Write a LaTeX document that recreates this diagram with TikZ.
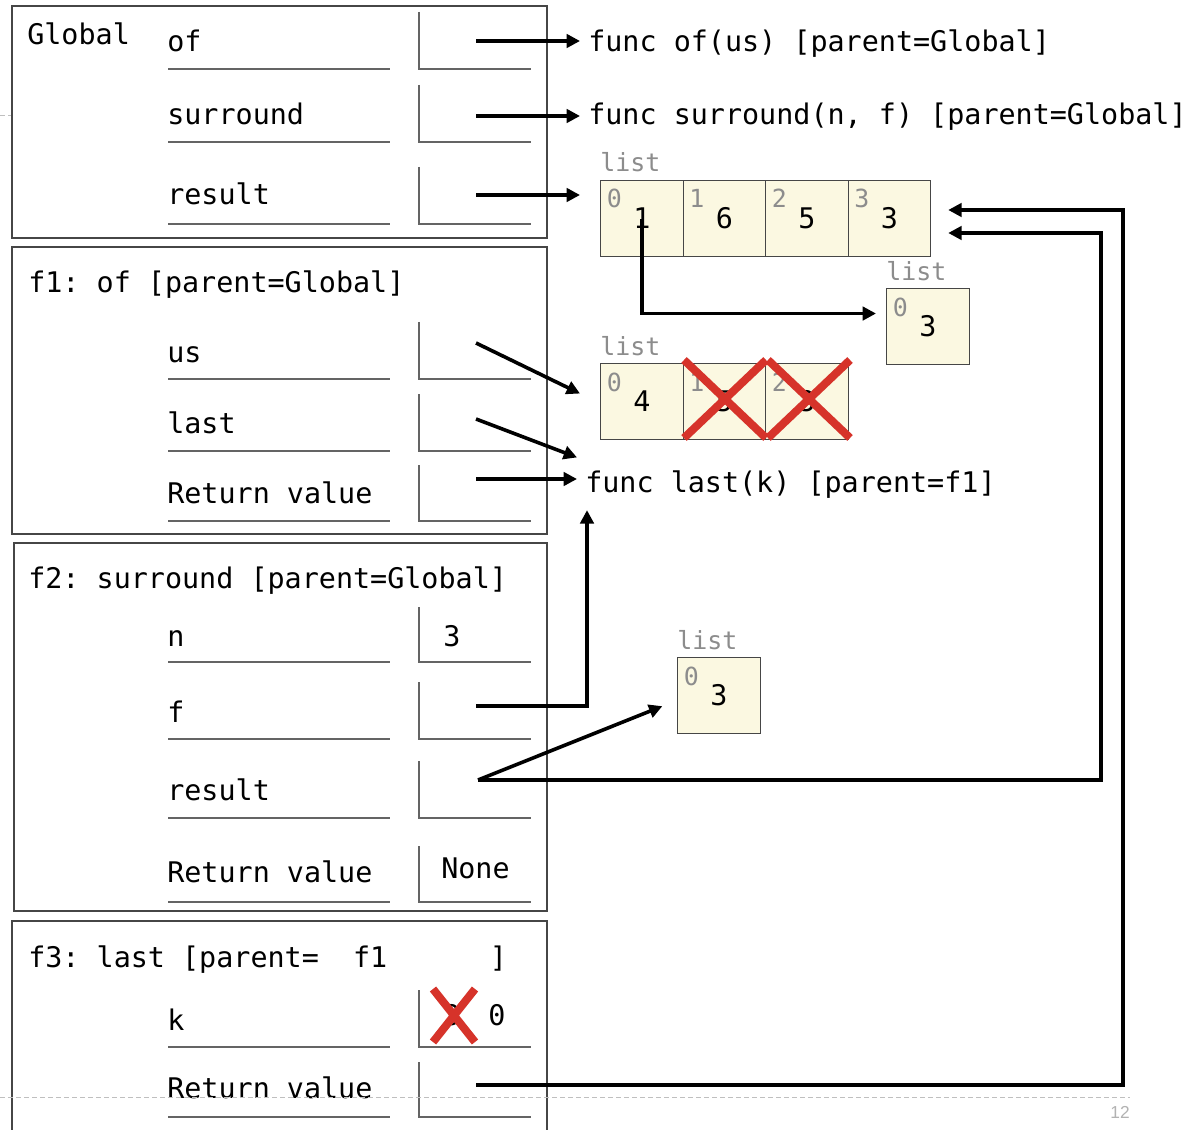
\documentclass[tikz,border=0pt]{standalone}
\usepackage{fontspec}
\setmonofont{DejaVu Sans Mono}
\newfontfamily\slidefont{Liberation Sans}
\usepackage{tikz}
\usetikzlibrary{arrows.meta}

\definecolor{cream}{RGB}{251,248,225}
\definecolor{crossred}{RGB}{214,51,42}
\definecolor{taggray}{RGB}{140,140,140}
\definecolor{edgegray}{RGB}{70,70,70}
\definecolor{rulegray}{RGB}{100,100,100}

\begin{document}
\begin{tikzpicture}[x=0.75pt,y=-0.75pt,
	txt/.style={anchor=base west, inner sep=0pt, font=\fontsize{21.3}{25}\selectfont\ttfamily},
	fn/.style={txt, inner xsep=6pt},
	tag/.style={anchor=base west, inner sep=0pt, text=taggray, font=\fontsize{18.7}{22}\selectfont\ttfamily},
	cell/.style={draw=edgegray, fill=cream, line width=0.8pt, anchor=north west, inner sep=0pt,
		minimum width=62pt, minimum height=57pt, font=\fontsize{21.3}{25}\selectfont\ttfamily},
	frm/.style={draw=edgegray, line width=0.9pt, fill=white},
	rule/.style={draw=rulegray, line width=1.3pt},
	ptr/.style={line width=2.7pt, -{Triangle[length=10pt,width=10pt]}},
	cross/.style={draw=crossred, line width=6pt},
]
\useasboundingbox (0,0) rectangle (1191,1130);
\draw[gray!50, line width=0.6pt, dash pattern=on 3.5pt off 2.5pt] (0,115) -- (12,115);

% frames
\draw[frm] (12,6) rectangle (547,238);
\draw[frm] (12,247) rectangle (547,534);
\draw[frm] (14,543) rectangle (547,911);
\draw[frm] (12,1130) -- (12,921) -- (547,921) -- (547,1130);

\node[txt] (global) at (27,45) {Global};
\node[txt] (fone) at (28,293) {f1: of [parent=Global]};
\node[txt] (ftwo) at (28,588) {f2: surround [parent=Global]};
\node[txt] (fthree) at (28,967) {f3: last [parent=~~f1~~~~~~]};

% bindings
\foreach \k/\lab/\b/\t/\l in {of/of/52/12/69, sur/surround/125/85/142, res/result/205/167/224}{
	\node[txt] (global-\k) at (167,\b) {\lab};
	\draw[rule] (168,\l) -- (390,\l);
	\draw[rule] (419,\t) -- (419,\l) -- (531,\l);
}
\foreach \k/\lab/\b/\t/\l in {us/us/362/322/379, last/last/433/394/451, ret/Return value/503/465/521}{
	\node[txt] (fone-\k) at (167,\b) {\lab};
	\draw[rule] (168,\l) -- (390,\l);
	\draw[rule] (419,\t) -- (419,\l) -- (531,\l);
}
\foreach \k/\lab/\b/\t/\l in {n/n/646/607/662, f/f/722/682/739, res/result/800/761/818, ret/Return value/882/846/902}{
	\node[txt] (ftwo-\k) at (167,\b) {\lab};
	\draw[rule] (168,\l) -- (390,\l);
	\draw[rule] (419,\t) -- (419,\l) -- (531,\l);
}
\foreach \k/\lab/\b/\t/\l in {k/k/1030/990/1047, ret/Return value/1098/1062/1117}{
	\node[txt] (fthree-\k) at (167,\b) {\lab};
	\draw[rule] (168,\l) -- (390,\l);
	\draw[rule] (419,\t) -- (419,\l) -- (531,\l);
}
\node[txt] (ftwo-n-v) at (443,646) {3};
\node[txt] (ftwo-ret-v) at (441,878) {None};
\node[txt] (fthree-k-old) at (443,1025) {3};
\node[txt] (fthree-k-v) at (488,1025) {0};

\coordinate (global-of-p) at (476,41);
\coordinate (global-sur-p) at (476,116);
\coordinate (global-res-p) at (476,195);
\coordinate (fone-us-p) at (476,343);
\coordinate (fone-last-p) at (476,419);
\coordinate (fone-ret-p) at (476,479);
\coordinate (ftwo-f-p) at (476,706);
\coordinate (ftwo-res-p) at (478,780);
\coordinate (fthree-ret-p) at (476,1085);

% functions
\node[fn] (funcof) at (580,52) {func of(us) [parent=Global]};
\node[fn] (funcsur) at (580,125) {func surround(n, f) [parent=Global]};
\node[fn] (funclast) at (577,492) {func last(k) [parent=f1]};

% lists
\foreach \i/\v in {0/1,1/6,2/5,3/3}{
	\node[cell] (la\i) at (600+82.5*\i,180) {\v};
	\node[tag] at ([xshift=5pt,yshift=-21pt]la\i.north west) {\i};
}
\node[tag] (lista) at ([yshift=6.5pt]la0.north west) {list};

\node[cell] (lb0) at (886,288) {3};
\node[tag] at ([xshift=5pt,yshift=-21pt]lb0.north west) {0};
\node[tag] (listb) at ([yshift=5.5pt]lb0.north west) {list};

\foreach \i/\v in {0/4,1/5,2/3}{
	\node[cell] (lc\i) at (600+82.5*\i,363) {\v};
	\node[tag] at ([xshift=5pt,yshift=-21pt]lc\i.north west) {\i};
}
\node[tag] (listc) at ([yshift=6pt]lc0.north west) {list};

\node[cell] (ld0) at (677,657) {3};
\node[tag] at ([xshift=5pt,yshift=-21pt]ld0.north west) {0};
\node[tag] (listd) at ([yshift=5.5pt]ld0.north west) {list};

\coordinate (bendA) at (1101,233);
\coordinate (bendB) at (1123,210);

% pointers
\draw[ptr] (global-of-p) -- (global-of-p -| funcof.west);
\draw[ptr] (global-sur-p) -- (global-sur-p -| funcsur.west);
\draw[ptr] (global-res-p) -- ([xshift=-15pt]global-res-p -| la0.west);
\draw[ptr] (la0.center) |- ([xshift=-7.5pt,yshift=9.75pt]lb0.west);
\draw[ptr] (fone-us-p) -- ([xshift=-15pt,yshift=6pt]lc0.west);
\draw[ptr] (fone-last-p) -- ([yshift=20pt]funclast.west);
\draw[ptr] (fone-ret-p) -- (fone-ret-p -| funclast.west);
\draw[ptr] (ftwo-f-p) -| ([xshift=7.5pt,yshift=-9pt]funclast.south west);
\draw[ptr] (ftwo-res-p) -- ([xshift=-11pt,yshift=-8pt]ld0.west);
\draw[ptr] (ftwo-res-p) -| (bendA) -- ([xshift=12.75pt]la3.east |- bendA);
\draw[ptr] (fthree-ret-p) -| (bendB) -- ([xshift=12.75pt]la3.east |- bendB);

% crossed out
\draw[cross] (684,360) -- (766,438) (766,360) -- (684,438);
\draw[cross] (768,360) -- (850,438) (850,360) -- (768,438);
\draw[cross] (433,989) -- (475,1042) (475,989) -- (433,1042);

\draw[gray!50, line width=0.6pt, dash pattern=on 3.5pt off 2.5pt] (0,1097) -- (1130,1097);
\node[text=gray!60, font=\slidefont\fontsize{13}{15}\selectfont] (pagenum) at (1120,1112) {12};
\end{tikzpicture}
\end{document}
